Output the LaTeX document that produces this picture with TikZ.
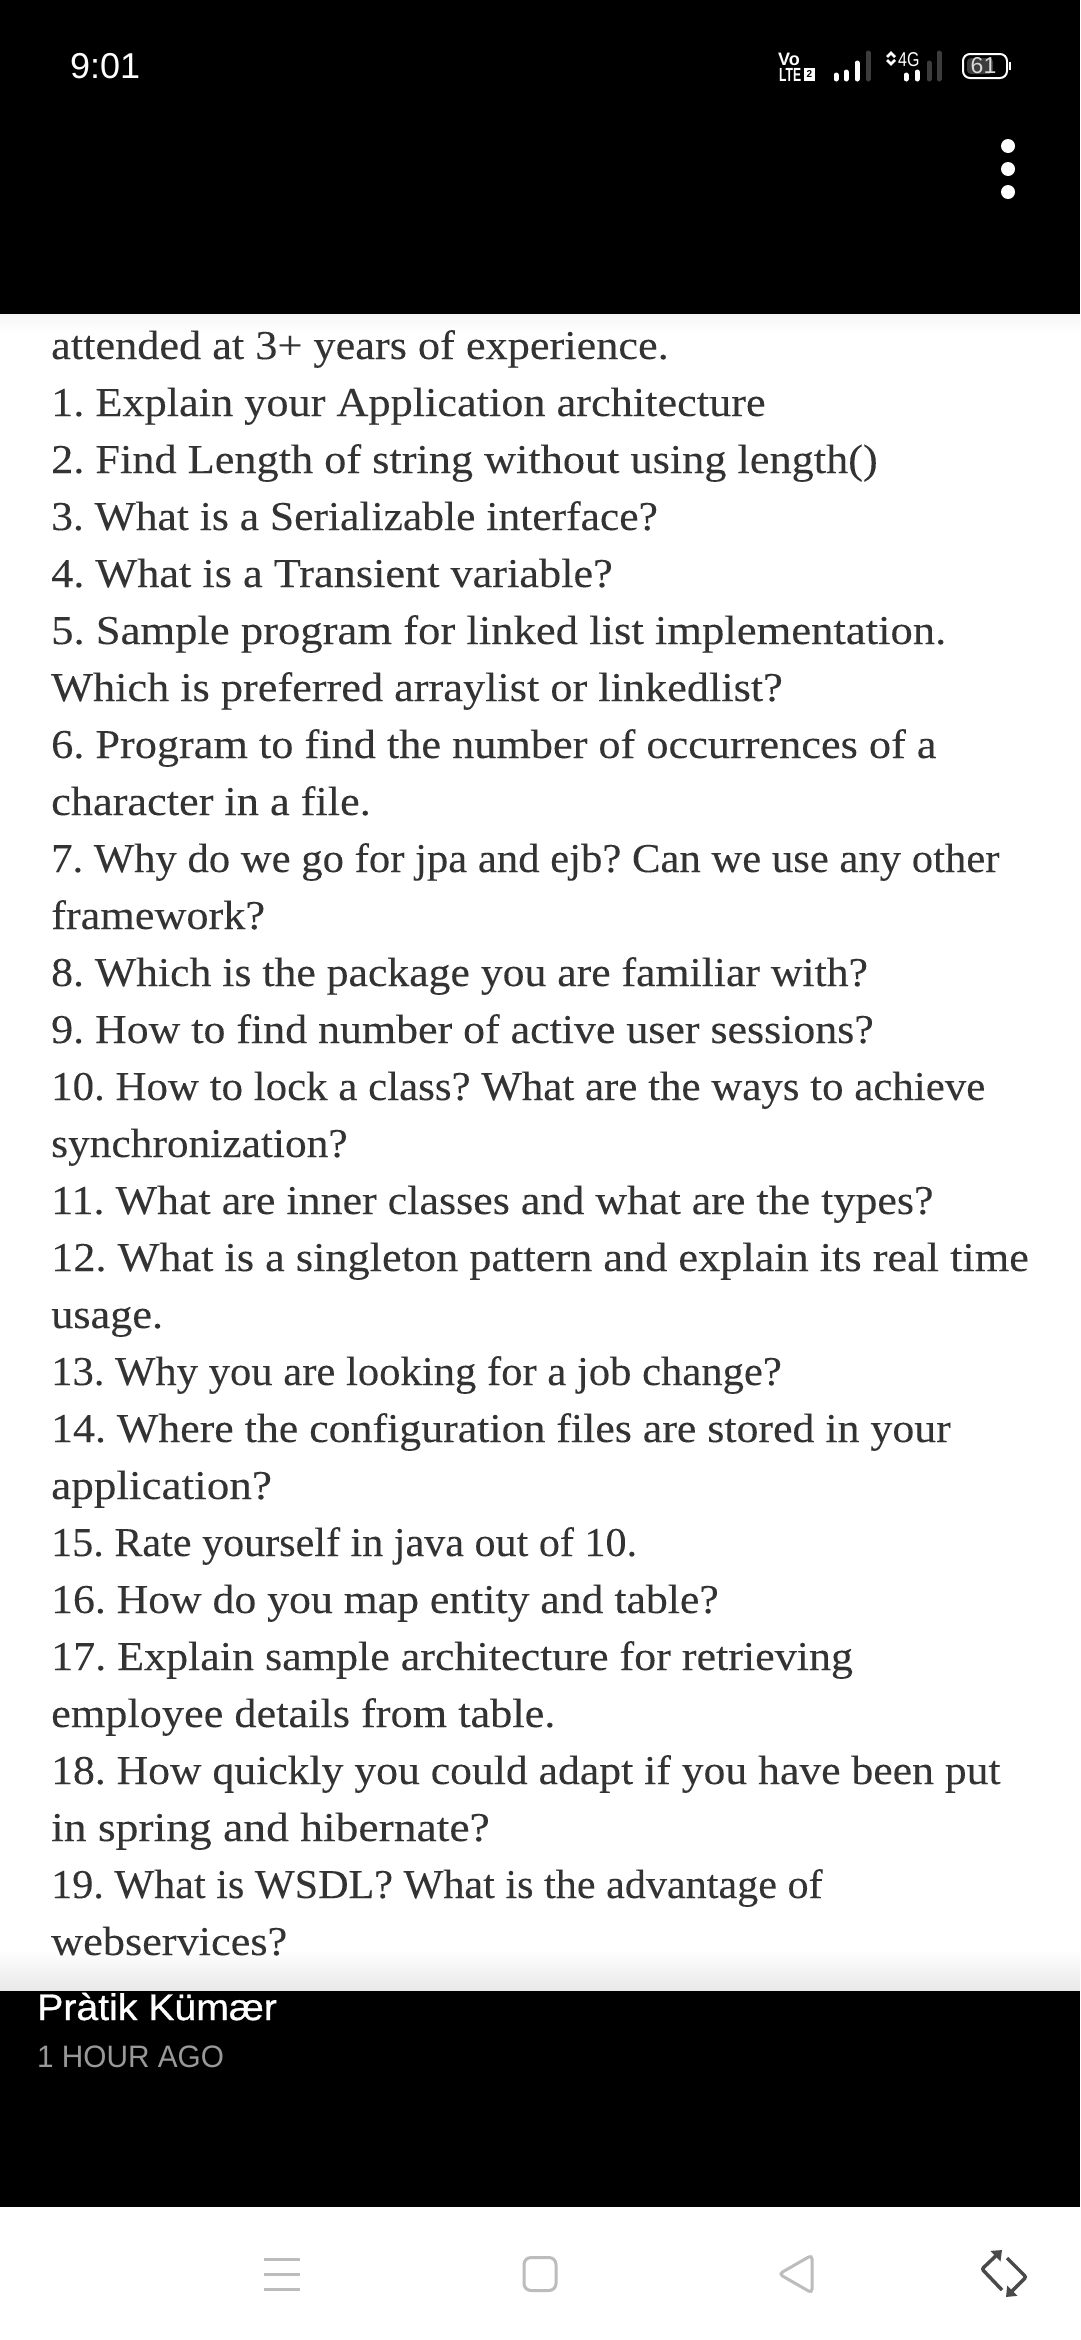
\documentclass[tikz,border=0pt]{standalone}
\usepackage{fontspec}
\newfontfamily\bodyfont[FakeStretch=1.08,FakeBold=0.12]{Liberation Serif}
\newfontfamily\uifont{Liberation Sans}
\newfontfamily\namefont[FakeBold=0.8,FakeStretch=1.06]{Liberation Sans}
\newfontfamily\agofont[FakeStretch=0.96]{Liberation Sans}
\newfontfamily\netfont[FakeStretch=0.8]{Liberation Sans}
\newfontfamily\ltefont[FakeStretch=0.64]{Liberation Sans}
\usetikzlibrary{arrows.meta}
\definecolor{inkgray}{HTML}{333333}
\definecolor{navgray}{HTML}{BCBCBC}
\definecolor{syncgray}{HTML}{4A4A4A}
\definecolor{bargray}{HTML}{3C3C3C}
\definecolor{agogray}{HTML}{999999}
\tikzset{
  line/.style={anchor=base west, inner sep=0pt, text=inkgray, font=\bodyfont\fontsize{41}{45}\selectfont\frenchspacing},
  fit line/.style={line, xscale=#1, transform shape},
  status/.style={anchor=base west, inner sep=0pt, text=white},
  bar/.style={line width=5pt, line cap=round},
  navline/.style={draw=navgray, line width=3pt},
  syncline/.style={draw=syncgray, line width=3.5pt, rounded corners=2pt, -{Triangle[length=9pt,width=14pt]}}
}
\begin{document}
\begin{tikzpicture}[x=1pt, y=-1pt]
  \useasboundingbox (0,0) rectangle (1080,2340);
  \fill[white] (0,0) rectangle (1080,2340);
  \shade[top color=black!4, bottom color=white] (0,314) rectangle (1080,332);
  \shade[top color=white, bottom color=black!9] (0,1950) rectangle (1080,1991);
  \fill[black] (0,0) rectangle (1080,314);
  \fill[black] (0,1991) rectangle (1080,2207);

  \node[status, font=\uifont\fontsize{36}{40}\selectfont] (CLOCK) at (70,78) {9:01};
  \node[status, font=\uifont\bfseries\fontsize{18}{20}\selectfont] (VO) at (778,65) {Vo};
  \node[status, font=\ltefont\bfseries\fontsize{19}{21}\selectfont] (LTE) at (779,81) {LTE};
  \fill[white] (804,68) rectangle (815,81);
  \node[font=\uifont\bfseries\fontsize{10}{12}\selectfont, text=black, inner sep=0pt] (SIM) at (809.5,74.5) {2};

  \draw[bar, white] (836,79) -- (836,75);
  \draw[bar, white] (846,79) -- (846,72);
  \draw[bar, white] (857,79) -- (857,63);
  \draw[bar, bargray] (868,79) -- (868,53);
  \draw[line width=2.5pt, white] (887,57) -- (891,53) -- (895,57);
  \draw[line width=2.5pt, white] (887,60) -- (891,64) -- (895,60);
  \node[status, font=\netfont\fontsize{20}{22}\selectfont] (NET) at (898,66) {4G};
  \draw[bar, white] (906,79) -- (906,75);
  \draw[bar, white] (917,79) -- (917,72);
  \draw[bar, bargray] (929,79) -- (929,63);
  \draw[bar, bargray] (939,79) -- (939,53);

  \draw[white, line width=2pt, rounded corners=7pt] (963,54) rectangle (1007,78);
  \fill[bargray, rounded corners=4pt] (967,58) rectangle (993,74);
  \fill[white] (1009,62) rectangle (1011,70);
  \node[font=\uifont\fontsize{23}{25}\selectfont, text=white!85!black, inner sep=0pt] (BATT) at (983.5,66) {61};

  \fill[white] (1008,146) circle (7);
  \fill[white] (1008,169) circle (7);
  \fill[white] (1008,192) circle (7);

  \node[line] (L0) at (51,359) {attended at 3+ years of experience.};
  \node[line] (L1) at (51,416) {1. Explain your Application architecture};
  \node[line] (L2) at (51,473) {2. Find Length of string without using length()};
  \node[fit line=.983] (L3) at (51,530) {3. What is a Serializable interface?};
  \node[line] (L4) at (51,587) {4. What is a Transient variable?};
  \node[fit line=1.008] (L5) at (51,644) {5. Sample program for linked list implementation.};
  \node[line] (L6) at (51,701) {Which is preferred arraylist or linkedlist?};
  \node[line] (L7) at (51,758) {6. Program to find the number of occurrences of a};
  \node[line] (L8) at (51,815) {character in a file.};
  \node[fit line=.964] (L9) at (51,872) {7. Why do we go for jpa and ejb? Can we use any other};
  \node[line] (L10) at (51,929) {framework?};
  \node[fit line=.987] (L11) at (51,986) {8. Which is the package you are familiar with?};
  \node[fit line=.991] (L12) at (51,1043) {9. How to find number of active user sessions?};
  \node[fit line=.969] (L13) at (51,1100) {10. How to lock a class? What are the ways to achieve};
  \node[fit line=.98] (L14) at (51,1157) {synchronization?};
  \node[fit line=.993] (L15) at (51,1214) {11. What are inner classes and what are the types?};
  \node[line] (L16) at (51,1271) {12. What is a singleton pattern and explain its real time};
  \node[line] (L17) at (51,1328) {usage.};
  \node[fit line=.963] (L18) at (51,1385) {13. Why you are looking for a job change?};
  \node[fit line=.99] (L19) at (51,1442) {14. Where the configuration files are stored in your};
  \node[fit line=1.02] (L20) at (51,1499) {application?};
  \node[fit line=.951] (L21) at (51,1556) {15. Rate yourself in java out of 10.};
  \node[fit line=.987] (L22) at (51,1613) {16. How do you map entity and table?};
  \node[fit line=.994] (L23) at (51,1670) {17. Explain sample architecture for retrieving};
  \node[line] (L24) at (51,1727) {employee details from table.};
  \node[fit line=.986] (L25) at (51,1784) {18. How quickly you could adapt if you have been put};
  \node[fit line=1.028] (L26) at (51,1841) {in spring and hibernate?};
  \node[fit line=.952] (L27) at (51,1898) {19. What is WSDL? What is the advantage of};
  \node[line] (L28) at (51,1955) {webservices?};

  \node[status, font=\namefont\fontsize{37}{40}\selectfont] (NAME) at (37,2020) {Pràtik Kümær};
  \node[status, text=agogray, font=\agofont\fontsize{31}{36}\selectfont] (AGO) at (37,2067) {1 HOUR AGO};

  \draw[navline] (264,2259) -- (300,2259);
  \draw[navline] (264,2274) -- (300,2274);
  \draw[navline] (264,2289) -- (300,2289);
  \draw[navline, rounded corners=7pt] (524,2257.5) rectangle (556,2290.5);
  \draw[navline, rounded corners=4pt] (812,2255) -- (779,2274) -- (812,2293) -- cycle;

  \draw[syncline] (1002,2290) -- (982,2269) -- (1002,2250);
  \draw[syncline] (1007,2258) -- (1026,2277) -- (1006,2297);
\end{tikzpicture}
\end{document}
